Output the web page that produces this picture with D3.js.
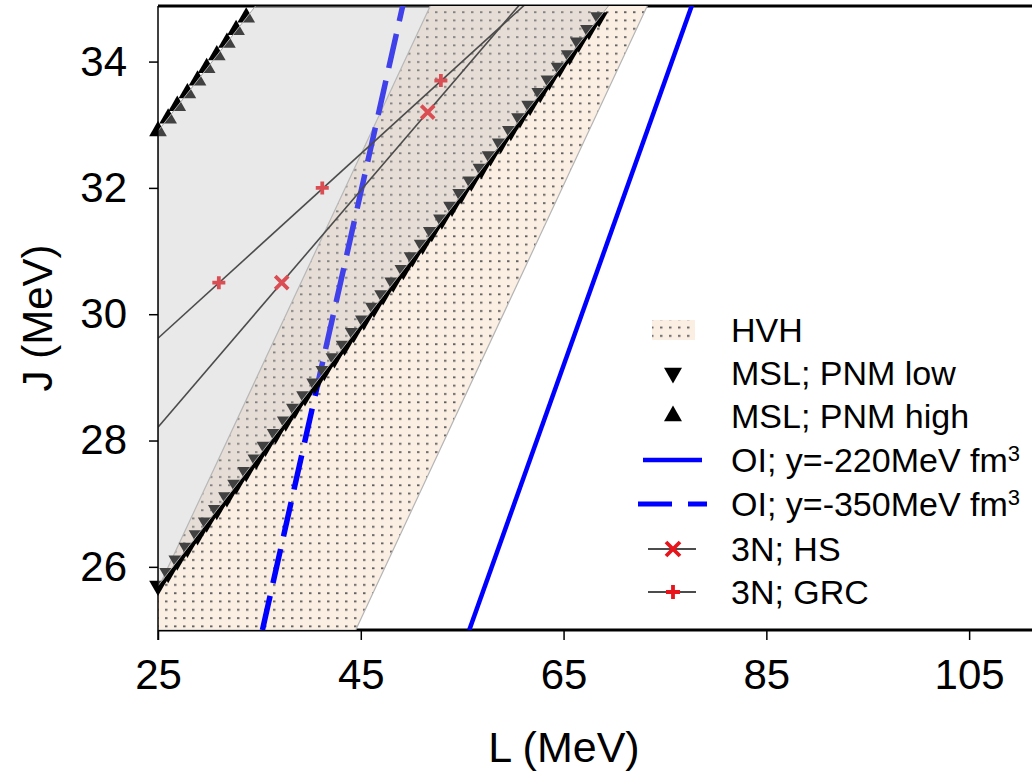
<!DOCTYPE html>
<html>
<head>
<meta charset="utf-8">
<script src="https://cdn.jsdelivr.net/npm/d3@7"></script>
<style>
  html, body { margin: 0; padding: 0; background: #fff; }
  svg { display: block; font-family: Arial, "Liberation Sans", sans-serif; }
</style>
</head>
<body>
<svg id="chart" width="1032" height="782"></svg>
<script>
// MSL; PNM low (downward triangles)
var lowL = [25.0, 26.0, 26.9, 27.9, 28.9, 29.8, 30.8, 31.8, 32.7, 33.7, 34.7, 35.6, 36.6, 37.6, 38.5, 39.5,
            40.5, 41.4, 42.4, 43.4, 44.3, 45.3, 46.3, 47.2, 48.2, 49.2, 50.1, 51.1, 52.0, 53.0, 54.0, 54.9,
            55.9, 56.9, 57.8, 58.8, 59.8, 60.7, 61.7, 62.7, 63.6, 64.6, 65.6, 66.5, 67.5, 68.5];
var lowJ = [25.7, 25.9, 26.1, 26.3, 26.5, 26.7, 26.9, 27.1, 27.3, 27.5, 27.7, 27.9, 28.1, 28.3, 28.5, 28.7,
            28.9, 29.1, 29.3, 29.5, 29.7, 29.9, 30.1, 30.3, 30.5, 30.7, 30.9, 31.1, 31.3, 31.5, 31.7, 31.9,
            32.1, 32.3, 32.5, 32.7, 32.9, 33.1, 33.3, 33.5, 33.7, 33.9, 34.1, 34.3, 34.5, 34.7];
// MSL; PNM high (upward triangles)
var highL = [25.0, 26.0, 26.9, 27.9, 28.9, 29.8, 30.8, 31.8, 32.7, 33.7];
var highJ = [32.9, 33.1, 33.3, 33.5, 33.7, 33.9, 34.1, 34.3, 34.5, 34.7];

// grey region between the two MSL bounds
var mslRegionL = [25, 70.0, 35.2, 25];
var mslRegionJ = [25.7, 35, 35, 32.9];

// HVH band edges
var hvhJ = [25, 35];
var hvhLeftL = [23.1, 52.2];
var hvhRightL = [44.5, 73.6];

// OI lines
var oi220L = [55.7, 77.9], oi220J = [25, 35];
var oi350L = [35.3, 49.3], oi350J = [25, 35];

// 3N fits and points
var hsLineL = [25, 62], hsLineJ = [28.21, 35.15];
var hsL = [37.2, 51.6], hsJ = [30.5, 33.2];
var grcLineL = [25, 62], grcLineJ = [29.62, 35.02];
var grcL = [31.0, 41.2, 52.9], grcJ = [30.5, 32.0, 33.7];

var xTicks = [25, 45, 65, 85, 105];
var yTicks = [26, 28, 30, 32, 34];

var legendLabels = ["HVH", "MSL; PNM low", "MSL; PNM high", "OI; y=-220MeV fm", "OI; y=-350MeV fm", "3N; HS", "3N; GRC"];

var svg = d3.select("#chart");
var pLeft = 158, pRight = 1032, pTop = 6, pBottom = 630;

var x = d3.scaleLinear().domain([25, 111.2]).range([pLeft, pRight]);
var y = d3.scaleLinear().domain([25, 34.88]).range([pBottom, pTop]);

var defs = svg.append("defs");
var pat = defs.append("pattern").attr("id", "dots")
    .attr("patternUnits", "userSpaceOnUse").attr("width", 9).attr("height", 8.3);
pat.append("rect").attr("width", 9).attr("height", 8.3).attr("fill", "#fbeee2");
pat.append("rect").attr("x", 3).attr("y", 3).attr("width", 2.5).attr("height", 1.8).attr("fill", "#5e5e5e");

defs.append("clipPath").attr("id", "plotclip").append("rect")
    .attr("x", pLeft).attr("y", pTop).attr("width", pRight - pLeft).attr("height", pBottom - pTop);

// frame lines (fills drawn over them)
svg.append("line").attr("x1", pLeft).attr("x2", pRight).attr("y1", pTop).attr("y2", pTop)
    .attr("stroke", "#000").attr("stroke-width", 3);
svg.append("line").attr("x1", pLeft).attr("x2", pRight).attr("y1", pBottom).attr("y2", pBottom)
    .attr("stroke", "#000").attr("stroke-width", 3);

var plot = svg.append("g").attr("clip-path", "url(#plotclip)");

function pts(Ls, Js) { return Ls.map(function(d, i) { return [x(d), y(Js[i])]; }); }
var line = d3.line();

// HVH band
var hvhPoly = pts(hvhLeftL, hvhJ).concat(pts(hvhRightL, hvhJ).reverse());
plot.append("path").attr("d", line(hvhPoly) + "Z")
    .attr("fill", "url(#dots)").attr("stroke", "#b5b5b5").attr("stroke-width", 1.2);

// OI dashed
plot.append("path").attr("d", line(pts(oi350L, oi350J)))
    .attr("fill", "none").attr("stroke", "#0000ff").attr("stroke-width", 5.5)
    .attr("stroke-dasharray", "35,13");

// 3N lines
[[hsLineL, hsLineJ], [grcLineL, grcLineJ]].forEach(function(s) {
    plot.append("path").attr("d", line(pts(s[0], s[1])))
        .attr("fill", "none").attr("stroke", "#111").attr("stroke-width", 1.6);
});

function xMark(g, cx, cy, r) {
    g.append("path").attr("d", "M" + (cx - r) + "," + (cy - r) + "L" + (cx + r) + "," + (cy + r) +
        "M" + (cx - r) + "," + (cy + r) + "L" + (cx + r) + "," + (cy - r))
        .attr("stroke", "#e8141c").attr("stroke-width", 3.8).attr("fill", "none");
}
function plusMark(g, cx, cy, r) {
    g.append("path").attr("d", "M" + (cx - r) + "," + cy + "L" + (cx + r) + "," + cy +
        "M" + cx + "," + (cy - r) + "L" + cx + "," + (cy + r))
        .attr("stroke", "#e8141c").attr("stroke-width", 3.8).attr("fill", "none");
}
hsL.forEach(function(d, i) { xMark(plot, x(d), y(hsJ[i]), 6.5); });
grcL.forEach(function(d, i) { plusMark(plot, x(d), y(grcJ[i]), 6.5); });

plot.append("path").attr("d", line(pts(lowL, lowJ)))
    .attr("fill", "none").attr("stroke", "#000").attr("stroke-width", 3.5)
    .attr("transform", "translate(1,2)");

// MSL triangles (markers are not clipped, as in the original)
var tri = d3.symbol().type(d3.symbolTriangle).size(135);
var marks = svg.append("g");
marks.selectAll(".low").data(lowL).enter().append("path")
    .attr("d", tri)
    .attr("transform", function(d, i) { return "translate(" + x(d) + "," + y(lowJ[i]) + ") rotate(180)"; })
    .attr("fill", "#000");
marks.selectAll(".high").data(highL).enter().append("path")
    .attr("d", tri)
    .attr("transform", function(d, i) { return "translate(" + x(d) + "," + y(highJ[i]) + ")"; })
    .attr("fill", "#000");

// grey MSL region on top, translucent
var over = svg.append("g").attr("clip-path", "url(#plotclip)");
over.append("path").attr("d", line(pts(mslRegionL, mslRegionJ)) + "Z")
    .attr("fill", "rgb(190,190,190)").attr("fill-opacity", 0.34)
    .attr("stroke", "#a8a8a8").attr("stroke-width", 1);

// OI solid
over.append("path").attr("d", line(pts(oi220L, oi220J)))
    .attr("fill", "none").attr("stroke", "#0000ff").attr("stroke-width", 4.5);

// axes
var xAxis = svg.append("g").attr("transform", "translate(0," + pBottom + ")")
    .call(d3.axisBottom(x).tickValues(xTicks).tickSize(10).tickPadding(19).tickFormat(d3.format("d")));
var yAxis = svg.append("g").attr("transform", "translate(" + pLeft + ",0)")
    .call(d3.axisLeft(y).tickValues(yTicks).tickSize(9).tickPadding(22).tickFormat(d3.format("d")));
[xAxis, yAxis].forEach(function(a) {
    a.select(".domain").remove();
    a.selectAll(".tick line").attr("stroke", "#000").attr("stroke-width", 1.5);
    a.selectAll(".tick text").attr("font-size", 42).attr("fill", "#000")
        .attr("font-family", "Arial, 'Liberation Sans', sans-serif");
});
svg.append("line").attr("x1", pLeft).attr("x2", pLeft).attr("y1", pTop).attr("y2", pBottom + 10)
    .attr("stroke", "#000").attr("stroke-width", 1.5);

svg.append("text").attr("x", 564).attr("y", 762).attr("text-anchor", "middle")
    .attr("font-size", 43).text("L (MeV)");
svg.append("text").attr("transform", "translate(52,318) rotate(-90)").attr("text-anchor", "middle")
    .attr("font-size", 42).text("J (MeV)");

// legend
var lg = svg.append("g");
var rowY = [330, 373, 416, 460, 504, 549, 592];
var symX = 673, textX = 731;
lg.selectAll("text.lab").data(legendLabels).enter().append("text")
    .attr("x", textX).attr("y", function(d, i) { return rowY[i]; }).attr("dy", "0.36em")
    .attr("font-size", 34).attr("fill", "#000")
    .text(function(d) { return d; })
    .each(function(d, i) {
        if (i === 3 || i === 4) d3.select(this).append("tspan").attr("dy", "-0.5em").attr("font-size", 22).text("3");
    });

lg.append("rect").attr("x", 652).attr("y", rowY[0] - 10).attr("width", 43).attr("height", 20).attr("fill", "url(#dots)");
var ltri = d3.symbol().type(d3.symbolTriangle).size(140);
lg.append("path").attr("d", ltri).attr("transform", "translate(" + symX + "," + rowY[1] + ") rotate(180)").attr("fill", "#000");
lg.append("path").attr("d", ltri).attr("transform", "translate(" + symX + "," + rowY[2] + ")").attr("fill", "#000");
lg.append("line").attr("x1", 643).attr("x2", 702).attr("y1", rowY[3]).attr("y2", rowY[3])
    .attr("stroke", "#0000ff").attr("stroke-width", 4.5);
lg.append("line").attr("x1", 638).attr("x2", 707).attr("y1", rowY[4]).attr("y2", rowY[4])
    .attr("stroke", "#0000ff").attr("stroke-width", 5).attr("stroke-dasharray", "34,16");
[5, 6].forEach(function(i) {
    lg.append("line").attr("x1", 648).attr("x2", 696).attr("y1", rowY[i]).attr("y2", rowY[i])
        .attr("stroke", "#111").attr("stroke-width", 1.6);
});
xMark(lg, symX, rowY[5], 7);
plusMark(lg, symX, rowY[6], 7);
</script>
</body>
</html>
